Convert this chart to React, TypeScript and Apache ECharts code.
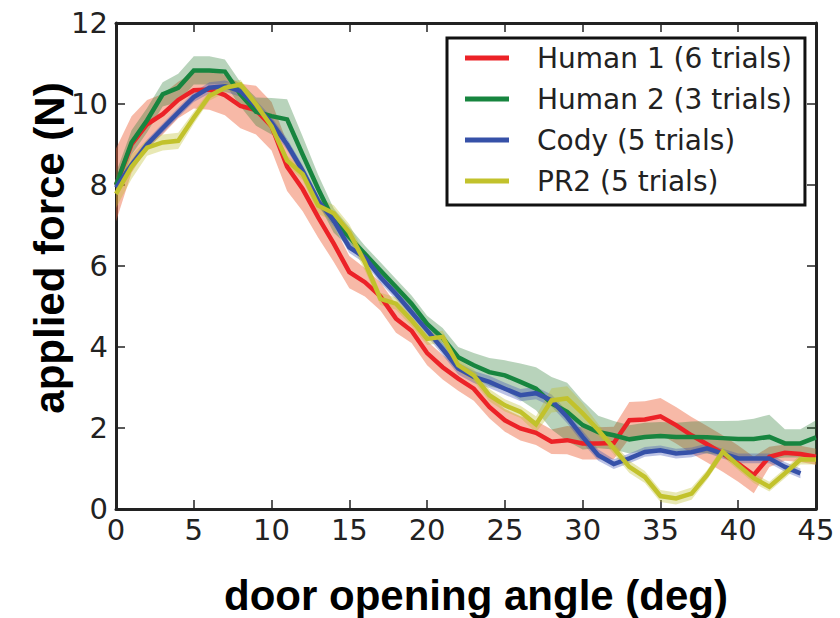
import React, { useEffect, useRef } from "react";
import * as echarts from "echarts";

const angles = [0,1,2,3,4,5,6,7,8,9,10,11,12,13,14,15,16,17,18,19,20,21,22,23,24,25,26,27,28,29,30,31,32,33,34,35,36,37,38,39,40,41,42,43,44,45];

const human1Mean = [8.0,9.0,9.5,9.75,10.1,10.34,10.36,10.22,9.95,9.85,9.45,8.45,7.9,7.2,6.55,5.85,5.6,5.25,4.7,4.4,3.85,3.5,3.22,2.97,2.52,2.19,1.99,1.88,1.66,1.7,1.62,1.62,1.63,2.19,2.21,2.29,2.07,1.82,1.6,1.37,1.12,0.84,1.29,1.39,1.36,1.29];
const human1Std = [0.9,0.7,0.6,0.5,0.45,0.45,0.5,0.5,0.55,0.6,0.6,0.6,0.55,0.5,0.45,0.4,0.35,0.35,0.35,0.3,0.3,0.3,0.3,0.3,0.28,0.28,0.3,0.3,0.3,0.35,0.4,0.4,0.4,0.45,0.45,0.45,0.45,0.45,0.45,0.45,0.45,0.45,0.25,0.2,0.2,0.2];

const human2Mean = [8.0,9.05,9.6,10.24,10.4,10.83,10.83,10.8,10.24,9.81,9.7,9.62,8.75,7.9,7.12,6.71,6.3,5.89,5.48,5.07,4.57,4.22,3.75,3.55,3.38,3.3,3.14,2.97,2.61,2.4,2.07,1.9,1.82,1.72,1.78,1.8,1.78,1.78,1.77,1.75,1.73,1.73,1.78,1.62,1.62,1.77];
const human2Std = [0.3,0.3,0.3,0.3,0.35,0.35,0.35,0.3,0.3,0.35,0.45,0.5,0.45,0.35,0.3,0.25,0.2,0.2,0.2,0.2,0.2,0.25,0.25,0.3,0.35,0.37,0.45,0.53,0.65,0.72,0.6,0.4,0.35,0.35,0.35,0.35,0.35,0.38,0.4,0.42,0.45,0.5,0.55,0.35,0.35,0.42];

const codyMean = [7.94,8.5,9.0,9.4,9.79,10.17,10.4,10.44,10.32,9.95,9.54,9.0,8.35,7.61,7.12,6.46,6.21,5.72,5.31,4.86,4.41,3.95,3.47,3.26,3.14,2.97,2.81,2.86,2.68,2.27,1.78,1.33,1.11,1.25,1.41,1.45,1.37,1.4,1.5,1.37,1.25,1.25,1.25,1.04,0.88];
const codyStd = [0.12,0.12,0.12,0.12,0.12,0.12,0.14,0.14,0.14,0.14,0.14,0.14,0.14,0.14,0.14,0.14,0.14,0.14,0.14,0.15,0.15,0.15,0.15,0.15,0.15,0.15,0.15,0.15,0.15,0.15,0.15,0.14,0.12,0.12,0.12,0.12,0.12,0.12,0.12,0.12,0.12,0.12,0.12,0.12,0.12];

const pr2Mean = [7.78,8.45,8.92,9.05,9.09,9.66,10.2,10.4,10.48,9.99,9.45,8.6,8.27,7.49,7.3,6.83,6.09,5.19,5.07,4.66,4.2,4.25,3.55,3.3,2.81,2.56,2.4,2.09,2.68,2.73,2.36,1.95,1.5,1.04,0.79,0.32,0.26,0.38,0.84,1.41,1.08,0.76,0.55,0.88,1.22,1.22];
const pr2Std = [0.35,0.3,0.2,0.2,0.2,0.15,0.12,0.12,0.12,0.12,0.12,0.12,0.15,0.2,0.2,0.2,0.2,0.15,0.15,0.15,0.15,0.15,0.15,0.15,0.15,0.15,0.15,0.2,0.3,0.3,0.25,0.15,0.15,0.15,0.15,0.15,0.15,0.15,0.12,0.12,0.12,0.12,0.12,0.12,0.12,0.12];

const xTickValues = [0, 5, 10, 15, 20, 25, 30, 35, 40, 45];
const yTickValues = [0, 2, 4, 6, 8, 10, 12];

const groups = [
  { name: "Human 1 (6 trials)", mean: human1Mean, std: human1Std, line: "#ec2227", band: "rgba(238,100,60,0.45)" },
  { name: "Human 2 (3 trials)", mean: human2Mean, std: human2Std, line: "#17853f", band: "rgba(40,120,50,0.33)" },
  { name: "Cody (5 trials)", mean: codyMean, std: codyStd, line: "#3651a8", band: "rgba(60,80,180,0.35)" },
  { name: "PR2 (5 trials)", mean: pr2Mean, std: pr2Std, line: "#c2c22c", band: "rgba(190,190,40,0.35)" },
];

const AXIS_COLOR = "#222";
const TICK_FONT = "DejaVu Sans";

export default function App() {
  const ref = useRef<HTMLDivElement>(null);

  useEffect(() => {
    if (!ref.current) return;
    const chart = echarts.init(ref.current, undefined, { renderer: "svg" });

    const bandSeries = groups.map((g, gi) => {
      const rows = g.mean.map((m, i) => [angles[i], m - g.std[i], m + g.std[i]]);
      return {
        type: "custom",
        name: "band-" + gi,
        data: rows,
        encode: { x: 0, y: [1, 2] },
        silent: true,
        clip: true,
        z: 1,
        renderItem: (params: any, api: any) => {
          if (params.dataIndex !== 0) return null;
          const upper = rows.map((r) => api.coord([r[0], r[2]]));
          const lower = rows.map((r) => api.coord([r[0], r[1]])).reverse();
          return {
            type: "polygon",
            shape: { points: upper.concat(lower) },
            style: { fill: g.band, stroke: "none" },
          };
        },
      };
    });

    const lineSeries = groups.map((g) => ({
      type: "line",
      name: g.name,
      data: g.mean.map((m, i) => [angles[i], m]),
      symbol: "none",
      lineStyle: { color: g.line, width: 4.5, join: "miter" },
      itemStyle: { color: g.line },
      z: 5,
    }));

    const axisCommon = {
      type: "value",
      axisLine: { show: true, onZero: false, lineStyle: { color: AXIS_COLOR, width: 3 } },
      axisTick: { show: true, inside: true, length: 9, lineStyle: { color: AXIS_COLOR, width: 1.5 } },
      splitLine: { show: false },
    };

    chart.setOption({
      animation: false,
      backgroundColor: "#fff",
      grid: { left: 116, right: 24, top: 23, bottom: 109, containLabel: false },
      xAxis: [
        {
          ...axisCommon,
          position: "bottom",
          min: 0,
          max: 45,
          interval: 5,
          axisLabel: {
            show: true,
            fontSize: 29,
            fontFamily: TICK_FONT,
            color: AXIS_COLOR,
            margin: 6,
            formatter: (v: number) => (xTickValues.includes(v) ? String(v) : ""),
          },
        },
        {
          ...axisCommon,
          position: "top",
          min: 0,
          max: 45,
          interval: 5,
          axisLabel: { show: false },
        },
      ],
      yAxis: [
        {
          ...axisCommon,
          position: "left",
          min: 0,
          max: 12,
          interval: 2,
          axisLabel: {
            show: true,
            fontSize: 29,
            fontFamily: TICK_FONT,
            color: AXIS_COLOR,
            margin: 8,
            formatter: (v: number) => (yTickValues.includes(v) ? String(v) : ""),
          },
        },
        {
          ...axisCommon,
          position: "right",
          min: 0,
          max: 12,
          interval: 2,
          axisLabel: { show: false },
        },
      ],
      legend: {
        data: groups.map((g) => g.name),
        orient: "vertical",
        left: 447,
        top: 38,
        padding: [6, 13, 10, 18],
        itemGap: 13,
        itemWidth: 44,
        itemHeight: 5,
        icon: "rect",
        borderColor: "#111",
        borderWidth: 3,
        backgroundColor: "#fff",
        selectedMode: false,
        textStyle: {
          fontSize: 28,
          fontFamily: TICK_FONT,
          color: AXIS_COLOR,
          lineHeight: 28,
          padding: [0, 0, 0, 23],
        },
      },
      graphic: [
        {
          type: "text",
          x: 49,
          y: 248,
          rotation: Math.PI / 2,
          style: {
            text: "applied force (N)",
            fontSize: 42,
            fontWeight: "bold",
            fontFamily: "Liberation Sans, Arial, sans-serif",
            fill: "#000",
            align: "center",
            verticalAlign: "middle",
          },
        },
        {
          type: "text",
          x: 476,
          y: 595,
          style: {
            text: "door opening angle (deg)",
            fontSize: 42,
            fontWeight: "bold",
            fontFamily: "Liberation Sans, Arial, sans-serif",
            fill: "#000",
            align: "center",
            verticalAlign: "middle",
          },
        },
      ],
      series: [...bandSeries, ...lineSeries],
    });

    return () => chart.dispose();
  }, []);

  return <div ref={ref} style={{ width: 840, height: 618, position: "absolute", left: 0, top: 0 }} />;
}
